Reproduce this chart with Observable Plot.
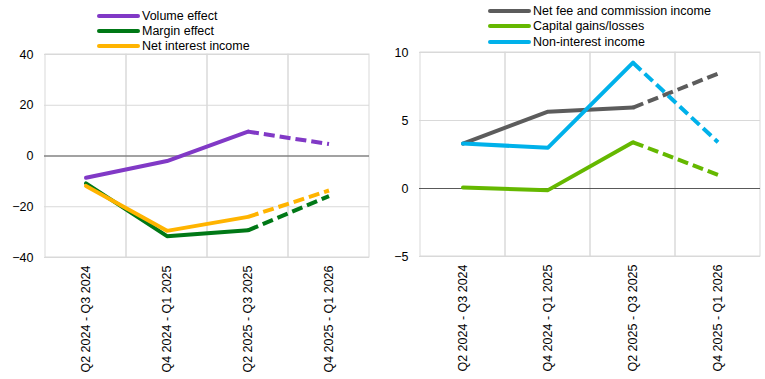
<!DOCTYPE html>
<html>
<head>
<meta charset="utf-8">
<script src="https://cdn.jsdelivr.net/npm/d3@7"></script>
<script src="https://cdn.jsdelivr.net/npm/@observablehq/plot@0.6"></script>
<style>
  html, body { margin: 0; padding: 0; background: #fff; }
  #root { position: relative; width: 765px; height: 379px; overflow: hidden; font-family: "Liberation Sans", Arial, sans-serif; }
  .panel { position: absolute; top: 0; }
  .legend { position: absolute; font-size: 12.5px; color: #000; }
  .legend .row { position: absolute; left: 0; white-space: nowrap; display: flex; align-items: center; height: 15px; }
  .legend .sw { width: 43px; height: 4px; border-radius: 2px; margin-right: 2px; }
</style>
</head>
<body>
<div id="root"></div>
<script>
// ---- data ----
const categories = ["Q2 2024 - Q3 2024", "Q4 2024 - Q1 2025", "Q2 2025 - Q3 2025", "Q4 2025 - Q1 2026"];

const leftNames = ["Volume effect", "Margin effect", "Net interest income"];
const volumeEffect = [-8.6, -2.0, 9.6, 4.7];
const marginEffect = [-10.8, -31.6, -29.3, -15.8];
const netInterestIncome = [-11.8, -29.5, -24.0, -13.6];
const leftColors = ["#8139c6", "#007816", "#ffb400"];
const leftTicks = [-40, -20, 0, 20, 40];

const rightNames = ["Net fee and commission income", "Capital gains/losses", "Non-interest income"];
const netFee = [3.3, 5.65, 5.95, 8.45];
const capitalGains = [0.07, -0.12, 3.4, 1.0];
const nonInterestIncome = [3.3, 3.0, 9.25, 3.4];
const rightColors = ["#5c5c5c", "#65b800", "#00b1ea"];
const rightTicks = [-5, 0, 5, 10];

const lastActual = 2; // index of last solid point; after that, projection (dashed)

function rows(names, seriesList) {
  const solid = [], dashed = [];
  names.forEach((name, s) => {
    seriesList[s].forEach((v, i) => {
      const r = {series: name, cat: categories[i], value: v};
      if (i <= lastActual) solid.push(r);
      if (i >= lastActual) dashed.push(r);
    });
  });
  return {solid, dashed};
}

function panel(names, seriesList, colors, ticks, opts) {
  const {solid, dashed} = rows(names, seriesList);
  const grid = "#d9d9d9";
  return Plot.plot({
    width: opts.width,
    height: 379,
    marginLeft: opts.marginLeft,
    marginRight: opts.marginRight,
    marginTop: opts.marginTop,
    marginBottom: opts.marginBottom,
    style: {fontFamily: "'Liberation Sans', Arial, sans-serif", fontSize: "12.5px", color: "#000", background: "transparent"},
    x: {type: "band", domain: categories, padding: 0, label: null, tickSize: 0, tickRotate: -90, tickPadding: 8},
    y: {domain: [ticks[0], ticks[ticks.length - 1]], ticks: ticks, label: null, tickSize: 0, tickPadding: 11},
    color: {domain: names, range: colors},
    marks: [
      Plot.ruleY(ticks, {stroke: grid, strokeWidth: 1}),
      Plot.barY(categories, {x: d => d, y1: ticks[0], y2: ticks[ticks.length - 1], fill: "none", stroke: grid, strokeWidth: 1}),
      Plot.ruleY([0], {stroke: "#595959", strokeWidth: 1}),
      Plot.line(solid, {x: "cat", y: "value", z: "series", stroke: "series", strokeWidth: 4, strokeLinecap: "round", strokeLinejoin: "round"}),
      Plot.line(dashed, {x: "cat", y: "value", z: "series", stroke: "series", strokeWidth: 4, strokeDasharray: "11,5", strokeLinecap: "butt", strokeLinejoin: "round"})
    ]
  });
}

const root = document.getElementById("root");

function addPanel(left, svg) {
  const d = document.createElement("div");
  d.className = "panel";
  d.style.left = left + "px";
  d.appendChild(svg);
  root.appendChild(d);
}

function addLegend(left, top, names, colors, spacing) {
  const lg = document.createElement("div");
  lg.className = "legend";
  lg.style.left = left + "px";
  lg.style.top = top + "px";
  names.forEach((n, i) => {
    const r = document.createElement("div");
    r.className = "row";
    r.style.top = (i * spacing) + "px";
    const sw = document.createElement("span");
    sw.className = "sw";
    sw.style.background = colors[i];
    const t = document.createElement("span");
    t.textContent = n;
    r.appendChild(sw);
    r.appendChild(t);
    lg.appendChild(r);
  });
  root.appendChild(lg);
}

addPanel(0, panel(leftNames, [volumeEffect, marginEffect, netInterestIncome], leftColors, leftTicks,
  {width: 380, marginLeft: 44, marginRight: 11, marginTop: 54, marginBottom: 122}));
addPanel(380, panel(rightNames, [netFee, capitalGains, nonInterestIncome], rightColors, rightTicks,
  {width: 385, marginLeft: 39, marginRight: 5, marginTop: 52, marginBottom: 123}));

addLegend(97, 8, leftNames, leftColors, 15);
addLegend(488, 3, rightNames, rightColors, 15.5);
</script>
</body>
</html>
